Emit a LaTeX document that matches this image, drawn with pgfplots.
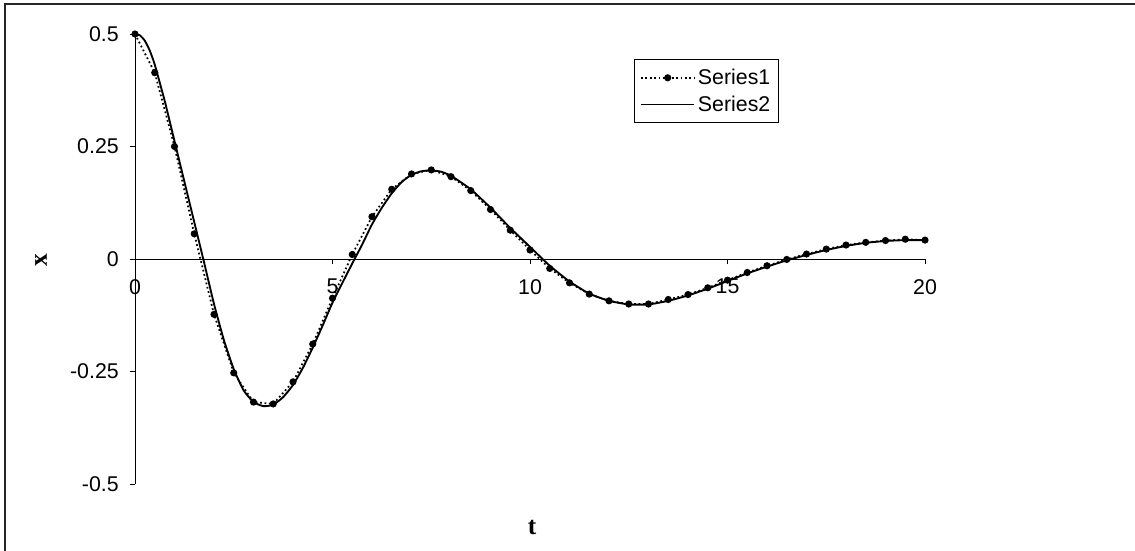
\documentclass[border=0pt]{standalone}
\usepackage{fontspec}
\setmainfont{Liberation Sans}
\newfontfamily\serifb{Liberation Serif}
\usepackage{pgfplots}
\pgfplotsset{compat=1.18}
\pgfplotstableread{
t y
0 0.5
0.5 0.414
1.0 0.25
1.5 0.056
2.0 -0.123
2.5 -0.253
3.0 -0.318
3.5 -0.322
4.0 -0.273
4.5 -0.189
5.0 -0.087
5.5 0.010
6.0 0.094
6.5 0.155
7.0 0.189
7.5 0.198
8.0 0.183
8.5 0.152
9.0 0.110
9.5 0.064
10.0 0.020
10.5 -0.021
11.0 -0.053
11.5 -0.078
12.0 -0.093
12.5 -0.100
13.0 -0.100
13.5 -0.090
14.0 -0.079
14.5 -0.064
15.0 -0.047
15.5 -0.030
16.0 -0.015
16.5 -0.001
17.0 0.011
17.5 0.022
18.0 0.031
18.5 0.037
19.0 0.041
19.5 0.044
20.0 0.042
}\seriesone
\pgfplotstableread{
t y
0 0.5
0.125 0.497
0.25 0.485
0.375 0.463
0.5 0.432
0.75 0.352
1.0 0.262
1.25 0.172
1.5 0.082
1.75 -0.008
2.0 -0.1
2.25 -0.18
2.5 -0.245
2.75 -0.292
3.0 -0.318
3.25 -0.327
3.5 -0.324
3.75 -0.307
4.0 -0.28
4.25 -0.242
4.5 -0.197
4.75 -0.148
5.0 -0.097
5.25 -0.053
5.5 -0.01
5.75 0.032
6.0 0.077
6.25 0.114
6.5 0.146
6.75 0.171
7.0 0.187
7.25 0.195
7.5 0.197
7.75 0.194
8.0 0.185
8.5 0.155
9.0 0.114
9.5 0.069
10.0 0.027
10.5 -0.015
11.0 -0.05
11.5 -0.077
12.0 -0.093
12.5 -0.101
13.0 -0.101
13.5 -0.093
14.0 -0.081
14.5 -0.066
15.0 -0.049
15.5 -0.032
16.0 -0.017
16.5 -0.003
17.0 0.009
17.5 0.02
18.0 0.029
18.5 0.036
19.0 0.04
19.5 0.042
20.0 0.042
}\seriestwo
\begin{document}
\begin{tikzpicture}
\useasboundingbox (0pt,0pt) rectangle (851.25pt,412.5pt);
\draw[line width=1.5pt, black!85] (3.75pt,-5pt) -- (3.75pt,409.5pt) -- (860pt,409.5pt);
\begin{axis}[
 at={(101.25pt,49.5pt)}, anchor=south west,
 scale only axis, width=592.5pt, height=337.5pt,
 xmin=0, xmax=20, ymin=-0.5, ymax=0.5,
 axis lines=middle,
 axis line style={-, line width=0.75pt},
 hide obscured x ticks=false, hide obscured y ticks=false,
 tick align=outside,
 major tick length=4pt,
 tick style={line width=0.75pt, black},
 xtick={0,5,10,15,20},
 xticklabels={0,5,10,15,20},
 ytick={-0.5,-0.25,0,0.25,0.5},
 yticklabels={-0.5,-0.25,0,0.25,0.5},
 xticklabel style={font=\fontsize{16pt}{19pt}\selectfont, anchor=north, inner sep=0pt, yshift=-11pt},
 yticklabel style={font=\fontsize{16pt}{19pt}\selectfont, anchor=east, inner sep=0pt, xshift=-8pt},
 xlabel={\serifb\bfseries t},
 ylabel={\serifb\bfseries x},
 xlabel style={at={(rel axis cs:0.5025,-0.0956)}, anchor=center, font=\fontsize{19pt}{21pt}\selectfont},
 ylabel style={at={(rel axis cs:-0.119,0.498)}, anchor=center, rotate=90, font=\fontsize{19pt}{21pt}\selectfont},
 legend style={at={(rel axis cs:0.632,0.944)}, anchor=north west, draw=black, line width=0.75pt,
   font=\fontsize{16pt}{19pt}\selectfont, inner xsep=4pt, inner ysep=5pt, row sep=3pt, legend cell align=left},
 legend image code/.code={\draw[mark repeat=2,mark phase=2,#1] plot coordinates {(0pt,0pt) (20pt,0pt) (40pt,0pt)};},
]
\addplot[black, line width=1.3pt, dotted, mark=*, mark size=2pt, mark options={solid}] table[x=t,y=y] {\seriesone};
\addlegendentry{Series1}
\addplot[black, line width=1.4pt, smooth, tension=0.3] table[x=t,y=y] {\seriestwo};
\addlegendentry{Series2}
\end{axis}
\end{tikzpicture}
\end{document}
